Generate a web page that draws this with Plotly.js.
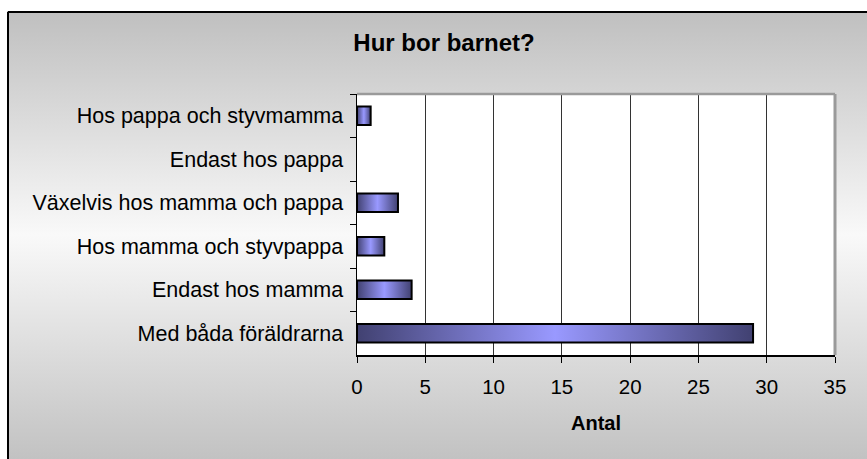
<!DOCTYPE html>
<html>
<head>
<meta charset="utf-8">
<script src="https://cdn.plot.ly/plotly-3.0.1.min.js"></script>
<style>
  html, body { margin: 0; padding: 0; background: #ffffff; overflow: hidden; }
  #wrap { position: relative; width: 867px; height: 459px; overflow: hidden; background: #ffffff; }
  #frame {
    position: absolute; left: 7px; top: 11px; width: 860px; height: 448px;
    background: linear-gradient(to bottom, #bfbfbf 0%, #f9f9f9 50%, #c2c2c2 100%);
  }
  #chart { position: absolute; left: 0; top: 0; width: 867px; height: 459px; }
</style>
</head>
<body>
<div id="wrap">
  <div id="frame"></div>
  <div id="chart"></div>
</div>
<script>
// ---- data ----
const categories = [
  "Hos pappa och styvmamma",
  "Endast hos pappa",
  "Växelvis hos mamma och pappa",
  "Hos mamma och styvpappa",
  "Endast hos mamma",
  "Med båda föräldrarna"
];
const counts = [1, 0, 3, 2, 4, 29];
const xTickValues = [0, 5, 10, 15, 20, 25, 30, 35];
const chartTitle = "Hur bor barnet?";
const xAxisTitle = "Antal";

// ---- layout geometry ----
const W = 867, H = 459;
const M = { l: 357, r: 32, t: 94, b: 104 };
const plotW = W - M.l - M.r;
const plotH = H - M.t - M.b;
const FONT = "Liberation Sans, Arial, sans-serif";
// chart-area frame position (pixels) converted to paper units
const frameX = 8, frameY = 12;
const fx = (frameX - M.l) / plotW;
const fy = (H - M.b - frameY) / plotH;
const fxEnd = (W + 10 - M.l) / plotW;
const fyEnd = (-20 - M.b) / plotH;

const trace = {
  type: "bar",
  orientation: "h",
  y: categories,
  x: counts,
  marker: {
    color: "#9999ff",
    line: { color: "#000000", width: counts.map(function (v) { return v > 0 ? 2 : 0; }) }
  },
  hoverinfo: "skip"
};

const layout = {
  width: W,
  height: H,
  margin: { l: M.l, r: M.r, t: M.t, b: M.b, pad: 0 },
  paper_bgcolor: "rgba(0,0,0,0)",
  plot_bgcolor: "#ffffff",
  showlegend: false,
  bargap: 0.575,
  font: { family: FONT, color: "#000000" },
  title: {
    text: chartTitle,
    font: { family: FONT, size: 24, weight: "bold", color: "#000000" },
    xref: "container", x: 444 / W, xanchor: "center",
    yref: "container", y: 1 - 43 / H, yanchor: "middle"
  },
  xaxis: {
    range: [0, 35],
    tickmode: "array",
    tickvals: xTickValues,
    ticktext: xTickValues.map(String),
    ticks: "outside",
    ticklen: 6,
    tickwidth: 1,
    tickcolor: "#000000",
    ticklabelstandoff: 7,
    showline: true,
    linecolor: "#000000",
    linewidth: 1.5,
    showgrid: true,
    gridcolor: "#333333",
    gridwidth: 1,
    zeroline: false,
    tickfont: { family: FONT, size: 20.5, color: "#000000" },
    title: {
      text: xAxisTitle,
      font: { family: FONT, size: 20, weight: "bold", color: "#000000" },
      standoff: 19
    },
    fixedrange: true
  },
  yaxis: {
    type: "category",
    autorange: "reversed",
    ticks: "outside",
    tickson: "boundaries",
    ticklen: 6,
    tickwidth: 1,
    tickcolor: "#000000",
    ticklabelstandoff: 8,
    showline: true,
    linecolor: "#000000",
    linewidth: 1.5,
    showgrid: false,
    zeroline: false,
    tickfont: { family: FONT, size: 21.5, color: "#000000" },
    fixedrange: true
  },
  shapes: [
    // chart-area frame (left and top edges)
    { type: "line", xref: "paper", yref: "paper", x0: fx, x1: fx, y0: fy, y1: fyEnd,
      line: { color: "#000000", width: 2 }, layer: "above" },
    { type: "line", xref: "paper", yref: "paper", x0: fx, x1: fxEnd, y0: fy, y1: fy,
      line: { color: "#000000", width: 2 }, layer: "above" },
    // plot-area border (top and right)
    { type: "line", xref: "paper", yref: "paper", x0: 0, x1: 1, y0: 1, y1: 1,
      line: { color: "#9a9a9a", width: 2.5 }, layer: "above" },
    { type: "line", xref: "paper", yref: "paper", x0: 1, x1: 1, y0: 0, y1: 1,
      line: { color: "#9a9a9a", width: 3 }, layer: "above" }
  ]
};

Plotly.newPlot("chart", [trace], layout, { displayModeBar: false, staticPlot: true })
  .then(function (gd) {
    const svgNS = "http://www.w3.org/2000/svg";
    const mainSvg = gd.querySelector(".main-svg");
    let defs = mainSvg.querySelector("defs");
    if (!defs) { defs = document.createElementNS(svgNS, "defs"); mainSvg.insertBefore(defs, mainSvg.firstChild); }
    const grad = document.createElementNS(svgNS, "linearGradient");
    grad.setAttribute("id", "barGradient");
    grad.setAttribute("x1", "0"); grad.setAttribute("y1", "0");
    grad.setAttribute("x2", "1"); grad.setAttribute("y2", "0");
    [["0", "#414171"], ["0.5", "#9999ff"], ["1", "#414171"]].forEach(function (s) {
      const st = document.createElementNS(svgNS, "stop");
      st.setAttribute("offset", s[0]);
      st.setAttribute("stop-color", s[1]);
      grad.appendChild(st);
    });
    defs.appendChild(grad);
    gd.querySelectorAll(".trace.bars .point path").forEach(function (p) {
      p.style.fill = "url(#barGradient)";
    });
  });
</script>
</body>
</html>
